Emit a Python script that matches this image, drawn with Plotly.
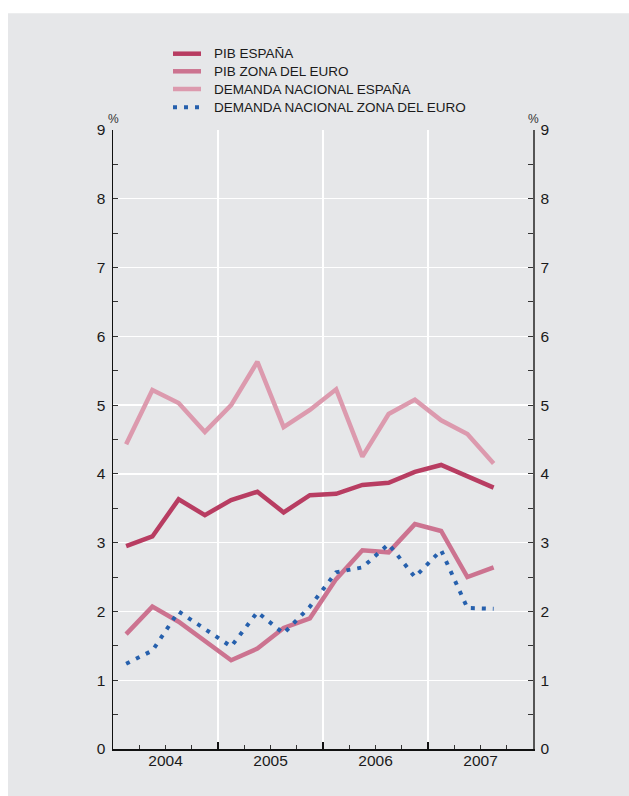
import plotly.graph_objects as go

# ---------------- data ----------------
quarters = ["2004-I", "2004-II", "2004-III", "2004-IV",
            "2005-I", "2005-II", "2005-III", "2005-IV",
            "2006-I", "2006-II", "2006-III", "2006-IV",
            "2007-I", "2007-II", "2007-III"]
quarter_pos = [i + 0.5 for i in range(len(quarters))]

pib_espana = [2.95, 3.09, 3.63, 3.40, 3.62, 3.74, 3.44, 3.69, 3.71, 3.84, 3.87, 4.03, 4.13, 3.96, 3.80]
pib_zona_euro = [1.67, 2.07, 1.85, 1.56, 1.29, 1.46, 1.76, 1.90, 2.47, 2.89, 2.86, 3.27, 3.17, 2.50, 2.64]
dn_espana = [4.43, 5.22, 5.03, 4.61, 5.00, 5.63, 4.68, 4.93, 5.23, 4.25, 4.87, 5.08, 4.78, 4.58, 4.15]
dn_zona_euro = [1.24, 1.43, 2.00, 1.75, 1.49, 1.99, 1.68, 2.07, 2.57, 2.64, 2.98, 2.50, 2.89, 2.05, 2.04]

year_labels = ["2004", "2005", "2006", "2007"]
year_label_pos = [2, 6, 10, 14]
year_bounds = [0, 4, 8, 12, 16]
quarter_bounds = [1, 2, 3, 5, 6, 7, 9, 10, 11, 13, 14, 15]

series_names = ["PIB ESPAÑA", "PIB ZONA DEL EURO", "DEMANDA NACIONAL ESPAÑA",
                "DEMANDA NACIONAL ZONA DEL EURO"]

# ---------------- style ----------------
W, H = 629, 796
L, T = 113, 130
PW, PH = 420, 619
R, B = W - L - PW, H - T - PH
BG = "#e6e7e9"
colors = ["#b83d62", "#cc7390", "#dc9aae", "#2660ad"]
widths = [4.5, 4.5, 4.5, 4]
dashes = ["solid", "solid", "solid", "4px,7px"]
FONT = "Liberation Sans, Arial, sans-serif"


def px2x(px):
    """page pixel -> paper x"""
    return (px - L) / PW


def py2y(py):
    """page pixel -> paper y"""
    return (T + PH - py) / PH


fig = go.Figure()
for name, vals, c, w, d in zip(series_names,
                               [pib_espana, pib_zona_euro, dn_espana, dn_zona_euro],
                               colors, widths, dashes):
    fig.add_trace(go.Scatter(x=quarter_pos, y=vals, mode="lines", name=name,
                             line=dict(color=c, width=w, dash=d),
                             showlegend=False, hoverinfo="skip"))

shapes = [
    # white frame strips (top and left) around the grey panel
    dict(type="rect", xref="paper", yref="paper",
         x0=px2x(-10), x1=px2x(650), y0=py2y(13.3), y1=py2y(-10),
         fillcolor="white", line=dict(width=0), layer="below"),
    dict(type="rect", xref="paper", yref="paper",
         x0=px2x(-10), x1=px2x(8), y0=py2y(-10), y1=py2y(810),
         fillcolor="white", line=dict(width=0), layer="below"),
]

annotations = []
legend_rows = [53.7, 71.3, 89.0, 107.3]
for name, c, w, d, ry in zip(series_names, colors, widths, dashes, legend_rows):
    shapes.append(dict(type="line", xref="paper", yref="paper",
                       x0=px2x(173), x1=px2x(201), y0=py2y(ry), y1=py2y(ry),
                       line=dict(color=c, width=w, dash=d)))
    annotations.append(dict(text=name, xref="paper", yref="paper",
                            x=px2x(212), y=py2y(ry), xanchor="left", yanchor="middle",
                            showarrow=False, font=dict(family=FONT, size=13.5, color="#1a1a1a")))

for px in (113.5, 533):
    annotations.append(dict(text="%", xref="paper", yref="paper",
                            x=px2x(px), y=py2y(119), xanchor="center", yanchor="middle",
                            showarrow=False, font=dict(family=FONT, size=12, color="#333")))

yaxis_common = dict(range=[0, 9], tickvals=list(range(10)), ticks="inside", ticklen=5,
                    tickcolor="#333", tickwidth=1,
                    minor=dict(tickvals=[i + 0.5 for i in range(9)], ticks="inside",
                               ticklen=5, tickcolor="#333", tickwidth=1),
                    tickfont=dict(family=FONT, size=15.5, color="#1a1a1a"),
                    showline=True, zeroline=False, fixedrange=True)

fig.update_layout(
    width=W, height=H,
    margin=dict(l=L, r=R, t=T, b=B, pad=0),
    paper_bgcolor=BG, plot_bgcolor=BG,
    showlegend=False,
    xaxis=dict(range=[0, 16], tickvals=year_bounds, ticktext=[""] * 5,
               ticks="inside", ticklen=7, tickcolor="#111", tickwidth=1.2,
               minor=dict(tickvals=quarter_bounds, ticks="inside", ticklen=4,
                          tickcolor="#333", tickwidth=1),
               showgrid=True, gridcolor="white", gridwidth=1.3,
               showline=True, linecolor="#111", linewidth=2, zeroline=False,
               fixedrange=True),
    xaxis2=dict(range=[0, 16], overlaying="x", anchor="y", side="bottom",
                tickvals=year_label_pos, ticktext=year_labels, ticks="",
                showgrid=False, showline=False, zeroline=False,
                tickfont=dict(family=FONT, size=15.5, color="#1a1a1a"),
                fixedrange=True),
    yaxis=dict(**yaxis_common, side="left", showgrid=True, gridcolor="white",
               gridwidth=1.3, linecolor="#111", linewidth=1.5, ticklabelstandoff=3),
    yaxis2=dict(**yaxis_common, side="right", overlaying="y", anchor="x",
                showgrid=False, linecolor="#555", linewidth=1.5, ticklabelstandoff=3),
    shapes=shapes,
    annotations=annotations,
)

# invisible helper traces so the secondary axes are drawn
fig.add_trace(go.Scatter(x=[None], y=[None], xaxis="x2", yaxis="y", showlegend=False,
                         hoverinfo="skip"))
fig.add_trace(go.Scatter(x=[None], y=[None], xaxis="x", yaxis="y2", showlegend=False,
                         hoverinfo="skip"))

fig.write_html("out.html",
               config={"displayModeBar": False, "staticPlot": True},
               post_script="document.body.style.margin='0';"
                           "document.body.style.overflow='hidden';"
                           f"document.body.style.background='{BG}';"
                           f"document.documentElement.style.background='{BG}';")
